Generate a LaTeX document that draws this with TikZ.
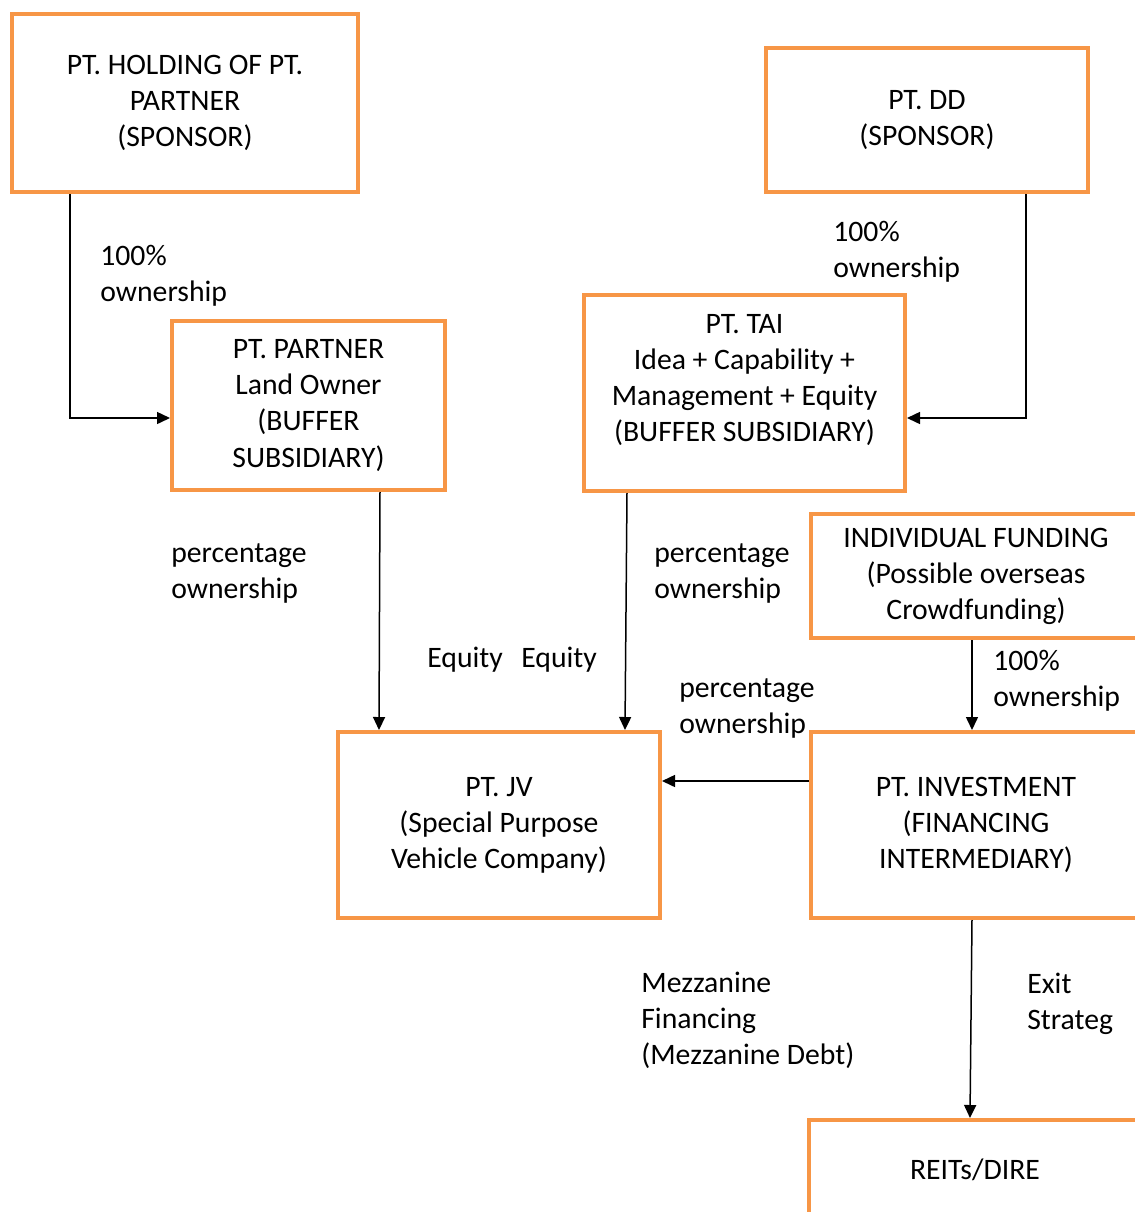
\documentclass[tikz,border=0pt]{standalone}
\usepackage{fontspec}
\setmainfont{Carlito}
\usepackage{xcolor}
\usepackage{tikz}
\usetikzlibrary{shapes.geometric, arrows.meta, positioning}
\definecolor{boxorange}{HTML}{F79646}
\tikzstyle{entity} = [rectangle, minimum width=6.44cm, minimum height=3.72cm, text centered, draw=boxorange, line width=0.08cm, fill=white]
\tikzstyle{note} = [align=left, inner sep=0pt, anchor=west]
\tikzstyle{arrow} = [line width=0.03cm,->,>={Triangle[length=0.26cm,width=0.24cm]}]
\tikzset{every node/.style={align=center, font=\fontsize{16.9pt}{20.5pt}\selectfont}}

\begin{document}
\begin{tikzpicture}
    \useasboundingbox (0,0) rectangle (22.68,-24.24);

    \node (hold)    [entity, minimum width=6.92cm, minimum height=3.56cm] at (3.70,-2.06) {PT. HOLDING OF PT.\\PARTNER\\(SPONSOR)};
    \node (dd)      [entity, minimum height=2.88cm] at (18.54,-2.40) {PT. DD\\(SPONSOR)};
    \node (partner) [entity, minimum width=5.46cm, minimum height=3.38cm] at (6.17,-8.11) {PT. PARTNER\\Land Owner\\(BUFFER\\SUBSIDIARY)};
    \node (tai)     [entity, minimum width=6.42cm, minimum height=3.92cm] at (14.89,-7.86) {PT. TAI\\Idea + Capability +\\Management + Equity\\(BUFFER SUBSIDIARY)\\[-3pt]\mbox{}};
    \node (indiv)   [entity, minimum width=6.6cm, minimum height=2.48cm] at (19.52,-11.52) {INDIVIDUAL FUNDING\\(Possible overseas\\Crowdfunding)};
    \node (jv)      [entity] at (9.98,-16.50) {PT. JV\\(Special Purpose\\Vehicle Company)};
    \node (inv)     [entity, minimum width=6.6cm] at (19.52,-16.50) {PT. INVESTMENT\\(FINANCING\\INTERMEDIARY)};
    \node (reits)   [entity, minimum width=6.64cm, minimum height=2.0cm] at (19.50,-23.40) {REITs/DIRE};

    % labels
    \node (own1)  [note] at (2.00,-5.51)   {100\%\\ownership};
    \node (own2)  [note] at (16.66,-5.03)  {100\%\\ownership};
    \node (pct1)  [note] at (3.42,-11.47)  {percentage\\ownership};
    \node (pct2)  [note] at (13.08,-11.47) {percentage\\ownership};
    \node (eq1)   [note] at (8.54,-13.19)  {Equity};
    \node (eq2)   [note] at (10.42,-13.19) {Equity};
    \node (own3)  [note] at (19.86,-13.61) {100\%\\ownership};
    \node (pct3)  [note] at (13.58,-14.17) {percentage\\ownership};
    \node (mezz)  [note] at (12.82,-20.41) {Mezzanine\\Financing\\(Mezzanine Debt)};
    \node (exit)  [note] at (20.54,-20.07) {Exit\\Strateg};

    \draw [arrow] ([xshift=1.2cm]hold.south west) |- ([yshift=-0.25cm]partner.west);
    \draw [arrow] ([xshift=-1.28cm]dd.south east) |- ([yshift=-0.5cm]tai.east);
    \draw [arrow] ([xshift=1.43cm]partner.south) -- ([xshift=-2.4cm]jv.north);
    \draw [arrow] ([xshift=-2.35cm]tai.south) -- ([xshift=2.52cm]jv.north);
    \draw [arrow] ([xshift=-0.08cm]indiv.south) -- ([xshift=-0.08cm]inv.north);
    \draw [arrow] ([yshift=0.88cm]inv.west) -- ([yshift=0.88cm]jv.east);
    \draw [arrow] ([xshift=-0.08cm]inv.south) -- ([xshift=-0.1cm]reits.north);
\end{tikzpicture}
\end{document}
